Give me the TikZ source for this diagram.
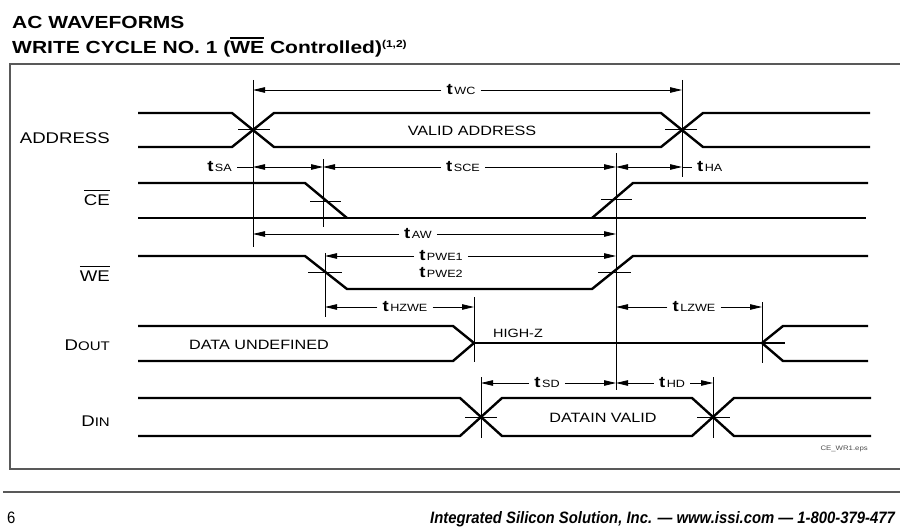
\documentclass[tikz,border=0pt]{standalone}
\usepackage{fontspec}
\setmainfont{Liberation Sans}[FakeStretch=1.2]
\newfontfamily\footfont{Liberation Sans}[FakeStretch=0.9]
\usetikzlibrary{arrows.meta}
\newcommand\tlab[1]{{\fontsize{15.5}{15}\selectfont\bfseries t}\kern1.5pt{\fontsize{10.5}{12}\selectfont #1}}
\newcommand\ovl[2][1pt]{\leavevmode\vbox{\hrule height #1\kern3pt\hbox{#2}}}
\begin{document}
\begin{tikzpicture}[x=1pt,y=-1pt,
  sig/.style={line width=2.4pt},
  vline/.style={line width=0.8pt},
  tick/.style={line width=0.8pt},
  plain/.style={line width=0.8pt},
  arr/.style={line width=0.8pt,-{Triangle[length=12pt,width=5.5pt]}},
  darr/.style={line width=0.8pt,{Triangle[length=12pt,width=5.5pt]}-{Triangle[length=12pt,width=5.5pt]}},
  tl/.style={inner xsep=5pt,inner ysep=1pt},
  siglabel/.style={anchor=base east,inner sep=0pt,font=\fontsize{15.5}{16}\selectfont},
  wavetext/.style={anchor=base,inner sep=0pt,font=\fontsize{13.5}{15}\selectfont},
]
\useasboundingbox (0,0) rectangle (900,527);
\clip (0,0) rectangle (900,527);

% title
\node[anchor=base west,inner sep=0pt] (title1) at (12,29) {\fontsize{17.5}{20}\selectfont\bfseries AC WAVEFORMS};
\node[anchor=base west,inner sep=0pt] (title2) at (12,54) {\fontsize{17.5}{20}\selectfont\bfseries WRITE CYCLE NO. 1 (\ovl[2pt]{WE} Controlled)\textsuperscript{\fontsize{10}{10}\selectfont(1,2)}};

% frame and footer rule
\draw[line width=1.4pt,black!65] (10,64) rectangle (910,469);
\coordinate (fr1) at (3,492); \coordinate (fr2) at (900,492);
\draw[line width=1.3pt,black!65] (fr1) -- (fr2);
\node[anchor=base west,inner sep=0pt] (pg) at (7,523) {\footfont\fontsize{16.5}{17}\selectfont 6};
\node[anchor=base west,inner sep=0pt] (foot) at (430,523) {\footfont\fontsize{16.5}{17}\selectfont\bfseries\itshape Integrated Silicon Solution, Inc. — www.issi.com — 1-800-379-477};

% signal labels
\node[siglabel] (lADDR) at (110,143) {ADDRESS};
\node[siglabel] (lCE) at (110,205) {\ovl{CE}};
\node[siglabel] (lWE) at (110,281) {\ovl{WE}};
\node[siglabel] (lDOUT) at (110,350) {D{\fontsize{12.5}{13}\selectfont OUT}};
\node[siglabel] (lDIN) at (110,426) {D{\fontsize{12.5}{13}\selectfont IN}};

% ADDRESS
\draw[sig] (138,113) -- (232,113) -- (274,147) -- (661,147) -- (703,113) -- (870,113);
\draw[sig] (138,147) -- (232,147) -- (274,113) -- (661,113) -- (703,147) -- (870,147);
\draw[tick] (238,129) -- (270,129);
\draw[tick] (665,129) -- (697,129);
\node[wavetext] (tVA) at (472,135) {VALID ADDRESS};

% CE
\draw[sig] (138,183) -- (305,183) -- (347,218);
\draw[sig] (138,218) -- (866,218);
\draw[sig] (592,218) -- (633,183) -- (868,183);
\draw[tick] (310,201) -- (341,201);
\draw[tick] (601,199) -- (632,199);

% WE
\draw[sig] (138,256) -- (305,256) -- (347,289) -- (592,289) -- (633,256) -- (868,256);
\draw[tick] (308,272) -- (342,272);
\draw[tick] (598,272) -- (631,272);

% DOUT
\draw[sig] (138,326) -- (453,326) -- (474,343);
\draw[sig] (138,361) -- (453,361) -- (474,343);
\draw[sig] (474,343) -- (785,343);
\draw[sig] (868,326) -- (783,326) -- (762,343) -- (783,361) -- (868,361);
\node[wavetext] (tDU) at (259,349) {DATA UNDEFINED};
\node[anchor=base west,inner sep=0pt,font=\fontsize{12}{13}\selectfont] (tHZ) at (493,337) {HIGH-Z};

% DIN
\draw[sig] (138,398) -- (460,398) -- (502,436) -- (692,436) -- (734,398) -- (871,398);
\draw[sig] (138,436) -- (460,436) -- (502,398) -- (692,398) -- (734,436) -- (871,436);
\draw[tick] (465,417) -- (497,417);
\draw[tick] (697,417) -- (730,417);
\node[wavetext] (tDV) at (603,422) {DATAIN VALID};
\node[anchor=base east,inner sep=0pt,font=\fontsize{6.5}{7}\selectfont,black!70] (tEPS) at (868,450) {CE\_WR1.eps};

% vertical reference lines
\coordinate (vA1) at (253,80);  \coordinate (vA2) at (253,247);
\coordinate (vB1) at (682,80);  \coordinate (vB2) at (682,177);
\coordinate (vC1) at (323,159); \coordinate (vC2) at (323,227);
\coordinate (vD1) at (325,253); \coordinate (vD2) at (325,317);
\coordinate (vE1) at (616,153); \coordinate (vE2) at (616,390);
\coordinate (vF1) at (474,297); \coordinate (vF2) at (474,362);
\coordinate (vG1) at (762,302); \coordinate (vG2) at (762,363);
\coordinate (vH1) at (481,377); \coordinate (vH2) at (481,438);
\coordinate (vI1) at (713,377); \coordinate (vI2) at (713,438);
\foreach \v in {A,B,C,D,E,F,G,H,I} {\draw[vline] (v\v1) -- (v\v2);}

% tWC
\coordinate (wcL) at (253,90); \coordinate (wcR) at (682,90);
\node[tl] (lWC) at (461,90) {\tlab{WC}};
\draw[arr] (lWC.west) -- (wcL);
\draw[arr] (lWC.east) -- (wcR);

% tSA, tSCE, tHA
\coordinate (saL) at (253,167); \coordinate (saR) at (323,167);
\coordinate (sceR) at (616,167); \coordinate (haR) at (682,167);
\node[tl,anchor=east] (lSA) at (237,167) {\tlab{SA}};
\draw[plain] (lSA.east) -- (saL);
\draw[darr] (saL) -- (saR);
\node[tl] (lSCE) at (463,167) {\tlab{SCE}};
\draw[arr] (lSCE.west) -- (saR);
\draw[arr] (lSCE.east) -- (sceR);
\draw[darr] (sceR) -- (haR);
\node[tl,anchor=west] (lHA) at (692,167) {\tlab{HA}};
\draw[plain] (haR) -- (lHA.west);

% tAW
\coordinate (awL) at (253,234); \coordinate (awR) at (616,234);
\node[tl] (lAW) at (418,234) {\tlab{AW}};
\draw[arr] (lAW.west) -- (awL);
\draw[arr] (lAW.east) -- (awR);

% tPWE1 / tPWE2
\coordinate (pwL) at (325,256); \coordinate (pwR) at (616,256);
\node[tl] (lPW1) at (441,256) {\tlab{PWE1}};
\node[tl] (lPW2) at (441,273) {\tlab{PWE2}};
\draw[arr] (lPW1.west) -- (pwL);
\draw[arr] (lPW1.east) -- (pwR);

% tHZWE, tLZWE
\coordinate (hzL) at (325,307); \coordinate (hzR) at (474,307);
\coordinate (lzL) at (616,307); \coordinate (lzR) at (762,307);
\node[tl] (lHZ) at (405,307) {\tlab{HZWE}};
\draw[arr] (lHZ.west) -- (hzL);
\draw[arr] (lHZ.east) -- (hzR);
\node[tl] (lLZ) at (694,307) {\tlab{LZWE}};
\draw[arr] (lLZ.west) -- (lzL);
\draw[arr] (lLZ.east) -- (lzR);

% tSD, tHD
\coordinate (sdL) at (481,383); \coordinate (sdR) at (616,383);
\coordinate (hdR) at (713,383);
\node[tl] (lSD) at (547,383) {\tlab{SD}};
\draw[arr] (lSD.west) -- (sdL);
\draw[arr] (lSD.east) -- (sdR);
\node[tl] (lHD) at (672,383) {\tlab{HD}};
\draw[arr] (lHD.west) -- (sdR);
\draw[arr] (lHD.east) -- (hdR);
\end{tikzpicture}
\end{document}
